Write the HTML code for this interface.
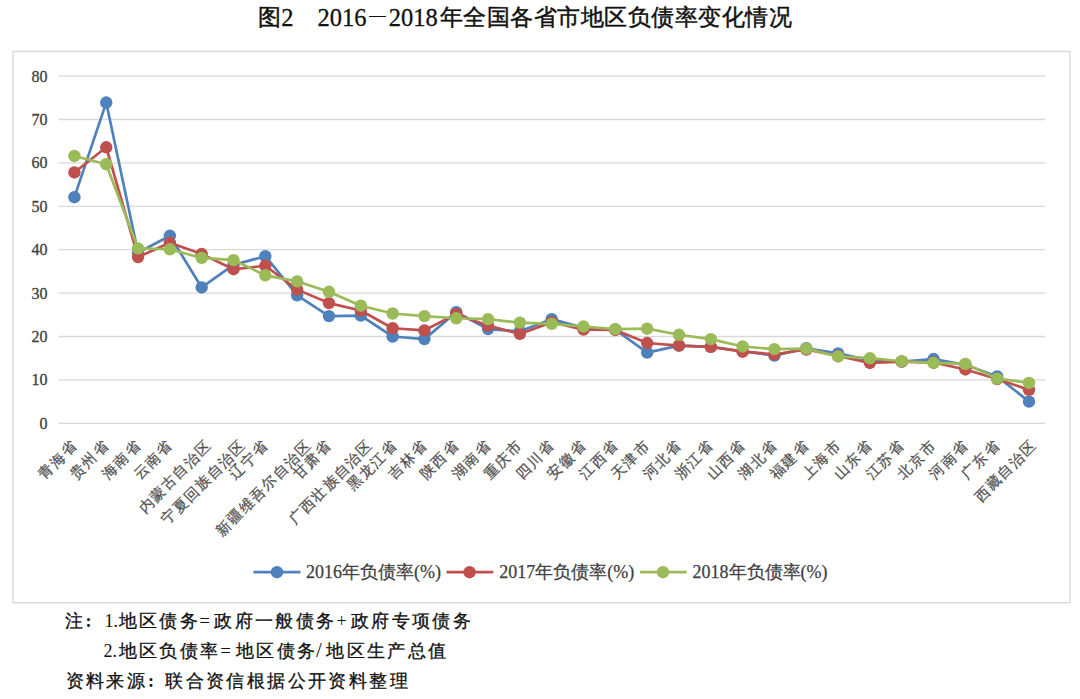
<!DOCTYPE html>
<html><head><meta charset="utf-8">
<style>
html,body{margin:0;padding:0;background:#fff;width:1080px;height:699px;overflow:hidden}
svg{position:absolute;left:0;top:0}
.ax{font-family:"Liberation Serif",serif;font-size:16px;fill:#404040;stroke:#404040;stroke-width:0.3px}
.xl{font-family:"Liberation Serif",serif;font-size:14.5px;letter-spacing:1.0px;fill:#505050;stroke:#505050;stroke-width:0.25px}
.lg{font-family:"Liberation Serif",serif;font-size:18px;fill:#404040;stroke:#404040;stroke-width:0.25px}
span{position:absolute;white-space:nowrap;font-family:"Liberation Serif",serif;color:#111;line-height:1}
.tc{font-size:23px;-webkit-text-stroke:0.45px #111;line-height:34px}
.ts{font-size:24.5px;line-height:34px;-webkit-text-stroke:0.3px #111}
.nc{font-size:17.5px;letter-spacing:2.4px;-webkit-text-stroke:0.3px #111;line-height:20px}
.ns{font-size:18px;line-height:20px}
</style></head><body>
<svg width="1080" height="699" viewBox="0 0 1080 699">
<rect x="13" y="51.5" width="1057" height="551.2" fill="#fff" stroke="#d9d9d9" stroke-width="1.4"/>
<line x1="58.5" y1="423.30" x2="1045" y2="423.30" stroke="#d9d9d9" stroke-width="1.3"/>
<text x="47.5" y="428.70" text-anchor="end" class="ax">0</text>
<line x1="58.5" y1="379.90" x2="1045" y2="379.90" stroke="#d9d9d9" stroke-width="1.3"/>
<text x="47.5" y="385.30" text-anchor="end" class="ax">10</text>
<line x1="58.5" y1="336.50" x2="1045" y2="336.50" stroke="#d9d9d9" stroke-width="1.3"/>
<text x="47.5" y="341.90" text-anchor="end" class="ax">20</text>
<line x1="58.5" y1="293.10" x2="1045" y2="293.10" stroke="#d9d9d9" stroke-width="1.3"/>
<text x="47.5" y="298.50" text-anchor="end" class="ax">30</text>
<line x1="58.5" y1="249.70" x2="1045" y2="249.70" stroke="#d9d9d9" stroke-width="1.3"/>
<text x="47.5" y="255.10" text-anchor="end" class="ax">40</text>
<line x1="58.5" y1="206.30" x2="1045" y2="206.30" stroke="#d9d9d9" stroke-width="1.3"/>
<text x="47.5" y="211.70" text-anchor="end" class="ax">50</text>
<line x1="58.5" y1="162.90" x2="1045" y2="162.90" stroke="#d9d9d9" stroke-width="1.3"/>
<text x="47.5" y="168.30" text-anchor="end" class="ax">60</text>
<line x1="58.5" y1="119.50" x2="1045" y2="119.50" stroke="#d9d9d9" stroke-width="1.3"/>
<text x="47.5" y="124.90" text-anchor="end" class="ax">70</text>
<line x1="58.5" y1="76.10" x2="1045" y2="76.10" stroke="#d9d9d9" stroke-width="1.3"/>
<text x="47.5" y="81.50" text-anchor="end" class="ax">80</text>
<polyline points="74.41,197.19 106.23,102.57 138.05,252.74 169.87,235.81 201.69,287.46 233.51,264.89 265.33,256.21 297.15,295.27 328.97,316.10 360.79,315.67 392.61,336.50 424.43,339.10 456.25,312.20 488.07,329.12 519.89,331.29 551.71,319.14 583.53,327.82 615.35,329.56 647.17,352.56 678.99,345.61 710.81,346.92 742.63,351.26 774.45,355.60 806.27,348.22 838.09,353.43 869.91,360.37 901.73,361.67 933.55,359.07 965.37,364.71 997.19,376.43 1029.01,401.60" fill="none" stroke="#4F81BD" stroke-width="2.7" stroke-linejoin="round" stroke-linecap="round"/>
<circle cx="74.41" cy="197.19" r="6.2" fill="#4F81BD"/>
<circle cx="106.23" cy="102.57" r="6.2" fill="#4F81BD"/>
<circle cx="138.05" cy="252.74" r="6.2" fill="#4F81BD"/>
<circle cx="169.87" cy="235.81" r="6.2" fill="#4F81BD"/>
<circle cx="201.69" cy="287.46" r="6.2" fill="#4F81BD"/>
<circle cx="233.51" cy="264.89" r="6.2" fill="#4F81BD"/>
<circle cx="265.33" cy="256.21" r="6.2" fill="#4F81BD"/>
<circle cx="297.15" cy="295.27" r="6.2" fill="#4F81BD"/>
<circle cx="328.97" cy="316.10" r="6.2" fill="#4F81BD"/>
<circle cx="360.79" cy="315.67" r="6.2" fill="#4F81BD"/>
<circle cx="392.61" cy="336.50" r="6.2" fill="#4F81BD"/>
<circle cx="424.43" cy="339.10" r="6.2" fill="#4F81BD"/>
<circle cx="456.25" cy="312.20" r="6.2" fill="#4F81BD"/>
<circle cx="488.07" cy="329.12" r="6.2" fill="#4F81BD"/>
<circle cx="519.89" cy="331.29" r="6.2" fill="#4F81BD"/>
<circle cx="551.71" cy="319.14" r="6.2" fill="#4F81BD"/>
<circle cx="583.53" cy="327.82" r="6.2" fill="#4F81BD"/>
<circle cx="615.35" cy="329.56" r="6.2" fill="#4F81BD"/>
<circle cx="647.17" cy="352.56" r="6.2" fill="#4F81BD"/>
<circle cx="678.99" cy="345.61" r="6.2" fill="#4F81BD"/>
<circle cx="710.81" cy="346.92" r="6.2" fill="#4F81BD"/>
<circle cx="742.63" cy="351.26" r="6.2" fill="#4F81BD"/>
<circle cx="774.45" cy="355.60" r="6.2" fill="#4F81BD"/>
<circle cx="806.27" cy="348.22" r="6.2" fill="#4F81BD"/>
<circle cx="838.09" cy="353.43" r="6.2" fill="#4F81BD"/>
<circle cx="869.91" cy="360.37" r="6.2" fill="#4F81BD"/>
<circle cx="901.73" cy="361.67" r="6.2" fill="#4F81BD"/>
<circle cx="933.55" cy="359.07" r="6.2" fill="#4F81BD"/>
<circle cx="965.37" cy="364.71" r="6.2" fill="#4F81BD"/>
<circle cx="997.19" cy="376.43" r="6.2" fill="#4F81BD"/>
<circle cx="1029.01" cy="401.60" r="6.2" fill="#4F81BD"/>
<polyline points="74.41,172.45 106.23,147.28 138.05,257.08 169.87,242.76 201.69,254.04 233.51,269.23 265.33,265.76 297.15,289.63 328.97,303.08 360.79,310.46 392.61,328.25 424.43,330.42 456.25,313.93 488.07,325.65 519.89,333.90 551.71,322.18 583.53,329.56 615.35,329.99 647.17,343.01 678.99,345.61 710.81,346.92 742.63,351.69 774.45,354.29 806.27,349.52 838.09,356.03 869.91,362.97 901.73,361.67 933.55,362.54 965.37,369.48 997.19,379.03 1029.01,389.88" fill="none" stroke="#C0504D" stroke-width="2.7" stroke-linejoin="round" stroke-linecap="round"/>
<circle cx="74.41" cy="172.45" r="6.2" fill="#C0504D"/>
<circle cx="106.23" cy="147.28" r="6.2" fill="#C0504D"/>
<circle cx="138.05" cy="257.08" r="6.2" fill="#C0504D"/>
<circle cx="169.87" cy="242.76" r="6.2" fill="#C0504D"/>
<circle cx="201.69" cy="254.04" r="6.2" fill="#C0504D"/>
<circle cx="233.51" cy="269.23" r="6.2" fill="#C0504D"/>
<circle cx="265.33" cy="265.76" r="6.2" fill="#C0504D"/>
<circle cx="297.15" cy="289.63" r="6.2" fill="#C0504D"/>
<circle cx="328.97" cy="303.08" r="6.2" fill="#C0504D"/>
<circle cx="360.79" cy="310.46" r="6.2" fill="#C0504D"/>
<circle cx="392.61" cy="328.25" r="6.2" fill="#C0504D"/>
<circle cx="424.43" cy="330.42" r="6.2" fill="#C0504D"/>
<circle cx="456.25" cy="313.93" r="6.2" fill="#C0504D"/>
<circle cx="488.07" cy="325.65" r="6.2" fill="#C0504D"/>
<circle cx="519.89" cy="333.90" r="6.2" fill="#C0504D"/>
<circle cx="551.71" cy="322.18" r="6.2" fill="#C0504D"/>
<circle cx="583.53" cy="329.56" r="6.2" fill="#C0504D"/>
<circle cx="615.35" cy="329.99" r="6.2" fill="#C0504D"/>
<circle cx="647.17" cy="343.01" r="6.2" fill="#C0504D"/>
<circle cx="678.99" cy="345.61" r="6.2" fill="#C0504D"/>
<circle cx="710.81" cy="346.92" r="6.2" fill="#C0504D"/>
<circle cx="742.63" cy="351.69" r="6.2" fill="#C0504D"/>
<circle cx="774.45" cy="354.29" r="6.2" fill="#C0504D"/>
<circle cx="806.27" cy="349.52" r="6.2" fill="#C0504D"/>
<circle cx="838.09" cy="356.03" r="6.2" fill="#C0504D"/>
<circle cx="869.91" cy="362.97" r="6.2" fill="#C0504D"/>
<circle cx="901.73" cy="361.67" r="6.2" fill="#C0504D"/>
<circle cx="933.55" cy="362.54" r="6.2" fill="#C0504D"/>
<circle cx="965.37" cy="369.48" r="6.2" fill="#C0504D"/>
<circle cx="997.19" cy="379.03" r="6.2" fill="#C0504D"/>
<circle cx="1029.01" cy="389.88" r="6.2" fill="#C0504D"/>
<polyline points="74.41,155.96 106.23,164.20 138.05,248.40 169.87,249.27 201.69,257.95 233.51,260.12 265.33,275.31 297.15,281.38 328.97,291.80 360.79,305.69 392.61,313.50 424.43,316.10 456.25,318.27 488.07,319.14 519.89,322.61 551.71,323.91 583.53,326.52 615.35,329.12 647.17,328.69 678.99,334.76 710.81,339.10 742.63,346.48 774.45,349.09 806.27,348.65 838.09,356.46 869.91,358.20 901.73,361.24 933.55,362.97 965.37,363.84 997.19,378.60 1029.01,382.94" fill="none" stroke="#9BBB59" stroke-width="2.7" stroke-linejoin="round" stroke-linecap="round"/>
<circle cx="74.41" cy="155.96" r="6.2" fill="#9BBB59"/>
<circle cx="106.23" cy="164.20" r="6.2" fill="#9BBB59"/>
<circle cx="138.05" cy="248.40" r="6.2" fill="#9BBB59"/>
<circle cx="169.87" cy="249.27" r="6.2" fill="#9BBB59"/>
<circle cx="201.69" cy="257.95" r="6.2" fill="#9BBB59"/>
<circle cx="233.51" cy="260.12" r="6.2" fill="#9BBB59"/>
<circle cx="265.33" cy="275.31" r="6.2" fill="#9BBB59"/>
<circle cx="297.15" cy="281.38" r="6.2" fill="#9BBB59"/>
<circle cx="328.97" cy="291.80" r="6.2" fill="#9BBB59"/>
<circle cx="360.79" cy="305.69" r="6.2" fill="#9BBB59"/>
<circle cx="392.61" cy="313.50" r="6.2" fill="#9BBB59"/>
<circle cx="424.43" cy="316.10" r="6.2" fill="#9BBB59"/>
<circle cx="456.25" cy="318.27" r="6.2" fill="#9BBB59"/>
<circle cx="488.07" cy="319.14" r="6.2" fill="#9BBB59"/>
<circle cx="519.89" cy="322.61" r="6.2" fill="#9BBB59"/>
<circle cx="551.71" cy="323.91" r="6.2" fill="#9BBB59"/>
<circle cx="583.53" cy="326.52" r="6.2" fill="#9BBB59"/>
<circle cx="615.35" cy="329.12" r="6.2" fill="#9BBB59"/>
<circle cx="647.17" cy="328.69" r="6.2" fill="#9BBB59"/>
<circle cx="678.99" cy="334.76" r="6.2" fill="#9BBB59"/>
<circle cx="710.81" cy="339.10" r="6.2" fill="#9BBB59"/>
<circle cx="742.63" cy="346.48" r="6.2" fill="#9BBB59"/>
<circle cx="774.45" cy="349.09" r="6.2" fill="#9BBB59"/>
<circle cx="806.27" cy="348.65" r="6.2" fill="#9BBB59"/>
<circle cx="838.09" cy="356.46" r="6.2" fill="#9BBB59"/>
<circle cx="869.91" cy="358.20" r="6.2" fill="#9BBB59"/>
<circle cx="901.73" cy="361.24" r="6.2" fill="#9BBB59"/>
<circle cx="933.55" cy="362.97" r="6.2" fill="#9BBB59"/>
<circle cx="965.37" cy="363.84" r="6.2" fill="#9BBB59"/>
<circle cx="997.19" cy="378.60" r="6.2" fill="#9BBB59"/>
<circle cx="1029.01" cy="382.94" r="6.2" fill="#9BBB59"/>
<text transform="translate(74.64,442.57) rotate(-45)" text-anchor="end" dy="0.35em" class="xl">青海省</text>
<text transform="translate(106.46,442.57) rotate(-45)" text-anchor="end" dy="0.35em" class="xl">贵州省</text>
<text transform="translate(138.28,442.57) rotate(-45)" text-anchor="end" dy="0.35em" class="xl">海南省</text>
<text transform="translate(170.10,442.57) rotate(-45)" text-anchor="end" dy="0.35em" class="xl">云南省</text>
<text transform="translate(208.82,442.57) rotate(-45)" text-anchor="end" dy="0.35em" class="xl">内蒙古自治区</text>
<text transform="translate(242.94,442.57) rotate(-45)" text-anchor="end" dy="0.35em" class="xl">宁夏回族自治区</text>
<text transform="translate(265.56,442.57) rotate(-45)" text-anchor="end" dy="0.35em" class="xl">辽宁省</text>
<text transform="translate(308.88,442.57) rotate(-45)" text-anchor="end" dy="0.35em" class="xl">新疆维吾尔自治区</text>
<text transform="translate(329.20,442.57) rotate(-45)" text-anchor="end" dy="0.35em" class="xl">甘肃省</text>
<text transform="translate(370.22,442.57) rotate(-45)" text-anchor="end" dy="0.35em" class="xl">广西壮族自治区</text>
<text transform="translate(395.14,442.57) rotate(-45)" text-anchor="end" dy="0.35em" class="xl">黑龙江省</text>
<text transform="translate(424.66,442.57) rotate(-45)" text-anchor="end" dy="0.35em" class="xl">吉林省</text>
<text transform="translate(456.48,442.57) rotate(-45)" text-anchor="end" dy="0.35em" class="xl">陕西省</text>
<text transform="translate(488.30,442.57) rotate(-45)" text-anchor="end" dy="0.35em" class="xl">湖南省</text>
<text transform="translate(520.12,442.57) rotate(-45)" text-anchor="end" dy="0.35em" class="xl">重庆市</text>
<text transform="translate(551.94,442.57) rotate(-45)" text-anchor="end" dy="0.35em" class="xl">四川省</text>
<text transform="translate(583.76,442.57) rotate(-45)" text-anchor="end" dy="0.35em" class="xl">安徽省</text>
<text transform="translate(615.58,442.57) rotate(-45)" text-anchor="end" dy="0.35em" class="xl">江西省</text>
<text transform="translate(647.40,442.57) rotate(-45)" text-anchor="end" dy="0.35em" class="xl">天津市</text>
<text transform="translate(679.22,442.57) rotate(-45)" text-anchor="end" dy="0.35em" class="xl">河北省</text>
<text transform="translate(711.04,442.57) rotate(-45)" text-anchor="end" dy="0.35em" class="xl">浙江省</text>
<text transform="translate(742.86,442.57) rotate(-45)" text-anchor="end" dy="0.35em" class="xl">山西省</text>
<text transform="translate(774.68,442.57) rotate(-45)" text-anchor="end" dy="0.35em" class="xl">湖北省</text>
<text transform="translate(806.50,442.57) rotate(-45)" text-anchor="end" dy="0.35em" class="xl">福建省</text>
<text transform="translate(838.32,442.57) rotate(-45)" text-anchor="end" dy="0.35em" class="xl">上海市</text>
<text transform="translate(870.14,442.57) rotate(-45)" text-anchor="end" dy="0.35em" class="xl">山东省</text>
<text transform="translate(901.96,442.57) rotate(-45)" text-anchor="end" dy="0.35em" class="xl">江苏省</text>
<text transform="translate(933.78,442.57) rotate(-45)" text-anchor="end" dy="0.35em" class="xl">北京市</text>
<text transform="translate(965.60,442.57) rotate(-45)" text-anchor="end" dy="0.35em" class="xl">河南省</text>
<text transform="translate(997.42,442.57) rotate(-45)" text-anchor="end" dy="0.35em" class="xl">广东省</text>
<text transform="translate(1033.84,442.57) rotate(-45)" text-anchor="end" dy="0.35em" class="xl">西藏自治区</text>
<line x1="253.5" y1="572.2" x2="300.5" y2="572.2" stroke="#4F81BD" stroke-width="2.7"/>
<circle cx="277" cy="572.2" r="6.2" fill="#4F81BD"/>
<text x="306" y="578.3" class="lg">2016年负债率(%)</text>
<line x1="446.5" y1="572.2" x2="493.3" y2="572.2" stroke="#C0504D" stroke-width="2.7"/>
<circle cx="469.6" cy="572.2" r="6.2" fill="#C0504D"/>
<text x="499.3" y="578.3" class="lg">2017年负债率(%)</text>
<line x1="640.1" y1="572.2" x2="686.7" y2="572.2" stroke="#9BBB59" stroke-width="2.7"/>
<circle cx="663" cy="572.2" r="6.2" fill="#9BBB59"/>
<text x="692.6" y="578.3" class="lg">2018年负债率(%)</text>
</svg>
<span class="tc" style="left:258.2px;top:1px;">图</span>
<span class="ts" style="left:281.2px;top:1px;">2</span>
<span class="ts" style="left:317.5px;top:1px;">2016</span>
<div style="position:absolute;left:368.8px;top:16px;width:17.1px;height:1.4px;background:#111"></div>
<span class="ts" style="left:388.7px;top:1px;">2018</span>
<span class="tc" style="left:439.6px;top:1px;letter-spacing:0.52px">年全国各省市地区负债率变化情况</span>
<span class="nc" style="left:64.5px;top:610.5px;">注</span>
<span class="ns" style="left:85.5px;top:610.5px;font-weight:bold">:</span>
<span class="ns" style="left:104.5px;top:610.5px;">1.</span>
<span class="nc" style="left:118.5px;top:610.5px;">地区债务</span>
<span class="ns" style="left:199.3px;top:610.5px;font-size:19px">=</span>
<span class="nc" style="left:214.3px;top:610.5px;">政府一般债务</span>
<span class="ns" style="left:336.5px;top:610.5px;">+</span>
<span class="nc" style="left:350.8px;top:610.5px;">政府专项债务</span>
<span class="ns" style="left:103.5px;top:641px;">2.</span>
<span class="nc" style="left:118.5px;top:641px;">地区负债率</span>
<span class="ns" style="left:220.3px;top:641px;font-size:19px">=</span>
<span class="nc" style="left:236px;top:641px;">地区债务</span>
<span class="ns" style="left:316px;top:640px;font-size:21px">/</span>
<span class="nc" style="left:326.3px;top:641px;">地区生产总值</span>
<span class="nc" style="left:65.5px;top:670.5px;">资料来源</span>
<span class="ns" style="left:148px;top:670.5px;font-weight:bold">:</span>
<span class="nc" style="left:165.3px;top:670.5px;">联合资信根据公开资料整理</span>
</body></html>
